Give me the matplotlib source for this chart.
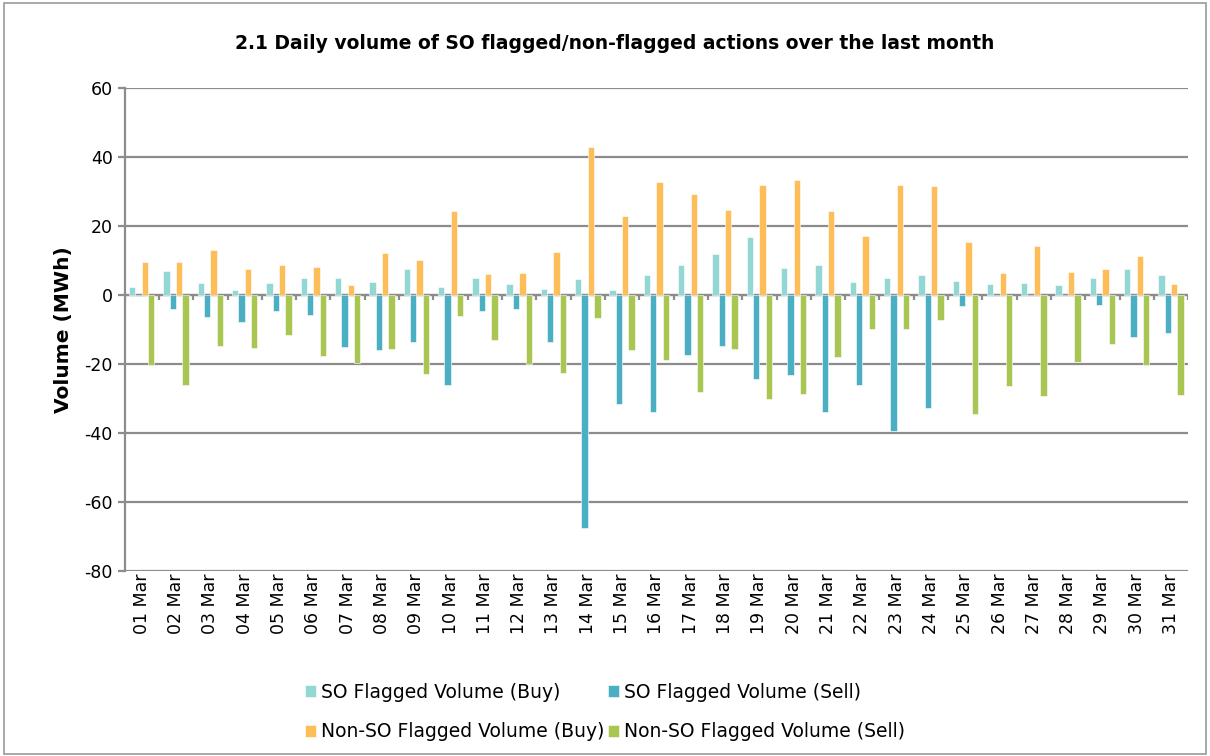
import numpy as np
import matplotlib.pyplot as plt
from matplotlib.patches import Rectangle

days = ['%02d Mar' % d for d in range(1, 32)]

so_buy = [2.2, 7.0, 3.4, 1.4, 3.4, 4.8, 4.8, 3.7, 7.4, 2.2,
          4.8, 3.0, 1.7, 4.6, 1.4, 5.8, 8.7, 11.9, 16.7, 7.7,
          8.6, 3.6, 4.9, 5.8, 3.9, 3.0, 3.4, 2.9, 4.9, 7.4, 5.6]
so_sell = [-0.3, -4.0, -6.5, -8.0, -4.8, -6.0, -15.1, -16.0, -13.7, -26.1,
           -4.8, -4.2, -13.7, -67.6, -31.8, -34.1, -17.6, -14.8, -24.4, -23.4,
           -34.0, -26.2, -39.5, -32.7, -3.4, -0.4, 0.0, 0.0, -3.0, -12.2, -11.2]
nonso_buy = [9.5, 9.6, 12.9, 7.5, 8.6, 7.9, 2.7, 12.1, 10.1, 24.2,
             6.1, 6.2, 12.4, 42.9, 22.8, 32.8, 29.1, 24.6, 31.9, 33.3,
             24.3, 17.0, 31.9, 31.6, 15.3, 6.4, 14.2, 6.6, 7.5, 11.1, 3.1]
nonso_sell = [-20.5, -26.3, -14.9, -15.4, -11.7, -17.8, -19.8, -15.7, -23.0, -6.3,
              -13.1, -20.1, -22.7, -6.8, -16.1, -18.9, -28.3, -15.7, -30.2, -28.8,
              -18.1, -9.9, -10.0, -7.4, -34.5, -26.5, -29.4, -19.5, -14.4, -20.5, -29.0]

series = [
    ('SO Flagged Volume (Buy)', so_buy, '#93D7D4'),
    ('SO Flagged Volume (Sell)', so_sell, '#4BAFC4'),
    ('Non-SO Flagged Volume (Buy)', nonso_buy, '#FDBE5A'),
    ('Non-SO Flagged Volume (Sell)', nonso_sell, '#A9C552'),
]

plt.rcParams['font.family'] = ['DejaVu Sans']
plt.rcParams['axes.unicode_minus'] = False
fig = plt.figure(figsize=(12.1, 7.56), dpi=100)
ax = fig.add_axes([0.103, 0.245, 0.879, 0.639])

x = np.arange(len(days))
w = 0.185
handles = []
for i, (name, vals, col) in enumerate(series):
    h = ax.bar(x + (i - 1.5) * w, vals, width=w, color=col,
               edgecolor='white', linewidth=0.4, label=name, zorder=3)
    handles.append(h)

ax.set_xlim(-0.5, len(days) - 0.5)
ax.set_ylim(-80, 60)
ax.set_yticks(range(-80, 61, 20))
ax.grid(axis='y', color='#8c8c8c', linewidth=1.6, zorder=0)
ax.axhline(0, color='#8c8c8c', linewidth=1.6, zorder=2)
# small tick marks between categories along the zero line
ax.vlines(np.arange(len(days) + 1) - 0.5, -1.5, 0, color='#8c8c8c', linewidth=1.6, zorder=2)

ax.set_xticks(x)
ax.set_xticklabels(days, rotation=90, fontsize=12.5)
ax.tick_params(axis='x', length=0, pad=2)
ax.tick_params(axis='y', labelsize=12.5, length=5, color='#8c8c8c', width=1.6)
for s in ['top', 'right', 'bottom']:
    ax.spines[s].set_visible(False)
ax.spines['left'].set_color('#8c8c8c')
ax.spines['left'].set_linewidth(1.6)

ax.set_ylabel('Volume (MWh)', fontsize=14.5, fontweight='bold', labelpad=8)
fig.text(0.508, 0.943, '2.1 Daily volume of SO flagged/non-flagged actions over the last month',
         ha='center', va='center', fontsize=13.5, fontweight='bold')

# legend fills column-wise, so order: row1 = SO buy/sell, row2 = Non-SO buy/sell
order = [0, 2, 1, 3]
fig.legend(handles=[handles[k] for k in order], labels=[series[k][0] for k in order],
           loc='center', bbox_to_anchor=(0.5, 0.058), ncol=2,
           frameon=False, fontsize=13.5, handlelength=0.6, handleheight=0.6,
           handletextpad=0.25, columnspacing=0.2, labelspacing=1.1)

fig.patches.append(Rectangle((0.003, 0.003), 0.994, 0.993, transform=fig.transFigure,
                             fill=False, edgecolor='#9a9a9a', linewidth=1.2))

fig.savefig('out.png', dpi=100)
